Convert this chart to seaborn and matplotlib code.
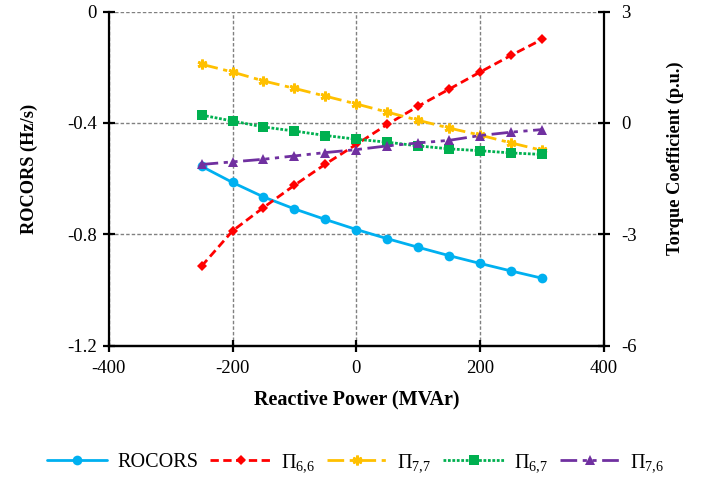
import matplotlib
matplotlib.use("Agg")
import matplotlib.pyplot as plt
import matplotlib.ticker as mticker
import seaborn as sns
import pandas as pd

# Reactive power operating points (MVAr)
reactive_power = [-250, -200, -150, -100, -50, 0, 50, 100, 150, 200, 250, 300]

# Rate of change of rotor speed (Hz/s) -- left axis
rocors = [-0.556, -0.614, -0.666, -0.709, -0.747, -0.783,
          -0.816, -0.847, -0.877, -0.905, -0.932, -0.958]

# Torque coefficients (p.u.) -- right axis
pi_66 = [-3.86, -2.91, -2.28, -1.68, -1.11, -0.58,
         -0.04, 0.45, 0.91, 1.37, 1.82, 2.25]
pi_77 = [1.58, 1.37, 1.13, 0.93, 0.72, 0.51,
         0.29, 0.07, -0.14, -0.33, -0.54, -0.74]
pi_67 = [0.21, 0.05, -0.11, -0.22, -0.34, -0.44,
         -0.52, -0.62, -0.70, -0.75, -0.81, -0.85]
pi_76 = [-1.12, -1.05, -0.98, -0.89, -0.80, -0.72,
         -0.62, -0.54, -0.47, -0.34, -0.25, -0.18]

x_ticks = [-400, -200, 0, 200, 400]
left_ticks = [0, -0.4, -0.8, -1.2]
right_ticks = [3, 0, -3, -6]

sns.set_theme(style="white")
plt.rcParams["font.family"] = ["Liberation Serif", "DejaVu Serif"]
plt.rcParams["mathtext.fontset"] = "custom"
plt.rcParams["mathtext.rm"] = "Liberation Serif"
plt.rcParams["mathtext.it"] = "Liberation Serif:italic"
plt.rcParams["axes.unicode_minus"] = False
plt.rcParams["text.color"] = "black"
plt.rcParams["axes.labelcolor"] = "black"

fig = plt.figure(figsize=(7.04, 4.8), dpi=100)
ax = fig.add_axes([0.1544, 0.28, 0.7036, 0.696])
ax2 = ax.twinx()

df = pd.DataFrame({"Q": reactive_power, "ROCORS": rocors,
                   "P66": pi_66, "P77": pi_77, "P67": pi_67, "P76": pi_76})

sns.lineplot(data=df, x="Q", y="ROCORS", ax=ax, color="#00B0F0",
             linewidth=2, marker="o", markersize=7, markeredgewidth=0,
             label="ROCORS", legend=False)

series = [
    ("P66", r"$\Pi_{6{,}6}$", "#FF0000", (0, (3, 1.6)), "D", 5.5),
    ("P77", r"$\Pi_{7{,}7}$", "#FFC000", (0, (6, 2, 1.5, 2)), (6, 2, 0), 7),
    ("P67", r"$\Pi_{6{,}7}$", "#00B050", (0, (1, 0.6)), "s", 7),
    ("P76", r"$\Pi_{7{,}6}$", "#7030A0", (0, (6, 2, 1.5, 2, 1.5, 2)), "^", 7.5),
]
for col, lab, color, ls, mk, ms in series:
    if mk == (6, 2, 0):
        kw = dict(markeredgewidth=2, markeredgecolor=color)
    else:
        kw = dict(markeredgewidth=0)
    sns.lineplot(data=df, x="Q", y=col, ax=ax2, color=color, linewidth=2,
                 linestyle=ls, marker=mk, markersize=ms, label=lab,
                 legend=False, **kw)

ax.set_xlim(-400, 400)
ax.set_ylim(-1.2, 0)
ax2.set_ylim(-6, 3)
ax.set_xticks(x_ticks)
ax.set_yticks(left_ticks)
ax2.set_yticks(right_ticks)
fmt = mticker.FuncFormatter(lambda v, p: f"{v:g}")
ax.yaxis.set_major_formatter(fmt)
ax2.yaxis.set_major_formatter(fmt)
ax.xaxis.set_major_formatter(fmt)

ax.grid(True, color="#808080", linestyle=(0, (2.5, 1.5)), linewidth=1)
ax.set_axisbelow(True)

for a in (ax, ax2):
    a.spines["top"].set_visible(False)
    for s in ("left", "right", "bottom"):
        a.spines[s].set_color("black")
        a.spines[s].set_linewidth(1.6)
    a.tick_params(direction="inout", length=9, width=1.6, colors="black",
                  labelsize=13.5, pad=4)
ax2.spines["left"].set_visible(False)
ax.spines["right"].set_visible(False)
ax.tick_params(axis="y", left=True)
ax.tick_params(axis="x", bottom=True, pad=6)
ax2.tick_params(axis="y", right=True, pad=8)

ax.set_xlabel("Reactive Power (MVAr)", fontsize=14.5, fontweight="bold", labelpad=9)
ax.set_ylabel("ROCORS (Hz/s)", fontsize=13.2, fontweight="bold")
ax2.set_ylabel("Torque Coefficient (p.u.)", fontsize=13.2, fontweight="bold")
ax.yaxis.set_label_coords(-0.143, 0.53)
ax2.yaxis.set_label_coords(1.127, 0.561)

h1, l1 = ax.get_legend_handles_labels()
h2, l2 = ax2.get_legend_handles_labels()
fig.legend(h1 + h2, l1 + l2, loc="center", bbox_to_anchor=(0.505, 0.035),
           ncol=5, frameon=False, fontsize=14.5, handlelength=3.0,
           columnspacing=0.6, handletextpad=0.5)

fig.savefig("out.png", dpi=100)
